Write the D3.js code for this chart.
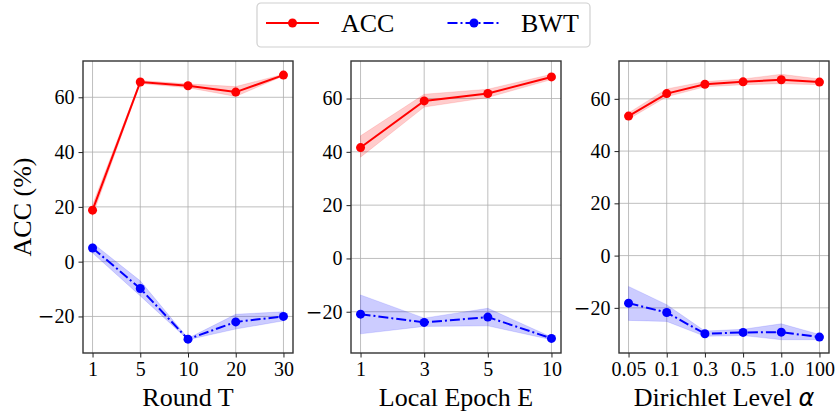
<!DOCTYPE html>
<html><head><meta charset="utf-8">
<script src="https://cdn.jsdelivr.net/npm/d3@7"></script>
<style>
html,body{margin:0;padding:0;background:#fff;}
svg{display:block;}
text{font-family:"Liberation Serif","Times New Roman",serif;fill:#000;}
</style></head>
<body>
<svg id="chart" width="835" height="413"></svg>
<script>
// ---- data ----
const roundT = ["1","5","10","20","30"];
const accRound   = [18.8, 65.6, 64.2, 61.9, 68.1];
const accRoundLo = [16.8, 65.0, 63.5, 60.3, 67.8];
const accRoundHi = [20.8, 66.1, 64.9, 63.9, 68.4];
const bwtRound   = [5.0, -9.8, -28.3, -22.0, -20.0];
const bwtRoundLo = [3.2, -12.5, -28.5, -24.6, -21.6];
const bwtRoundHi = [6.8, -7.0, -28.0, -19.2, -18.3];

const localE = ["1","3","5","10"];
const accEpoch   = [41.6, 59.1, 61.9, 68.1];
const accEpochLo = [38.0, 56.8, 60.4, 67.1];
const accEpochHi = [46.0, 61.6, 63.5, 69.1];
const bwtEpoch   = [-20.9, -24.0, -22.0, -30.0];
const bwtEpochLo = [-28.3, -25.5, -25.3, -30.5];
const bwtEpochHi = [-13.7, -22.4, -18.7, -29.5];

const dirichlet = ["0.05","0.1","0.3","0.5","1.0","100"];
const accDir   = [53.4, 62.0, 65.6, 66.5, 67.3, 66.4];
const accDirLo = [52.2, 60.8, 64.6, 65.4, 65.8, 65.4];
const accDirHi = [54.6, 63.8, 66.6, 67.6, 69.4, 67.6];
const bwtDir   = [-18.2, -21.8, -29.9, -29.4, -29.3, -31.2];
const bwtDirLo = [-24.8, -25.2, -30.9, -30.6, -32.2, -32.2];
const bwtDirHi = [-11.8, -18.8, -28.9, -28.2, -26.1, -30.2];

const yTicks = [-20, 0, 20, 40, 60];
const seriesNames = ["ACC", "BWT"];
const xLabels = ["Round T", "Local Epoch E", "Dirichlet Level "];

// ---- build ----
const panels = [
  {cats: roundT, acc: accRound, accLo: accRoundLo, accHi: accRoundHi, bwt: bwtRound, bwtLo: bwtRoundLo, bwtHi: bwtRoundHi, label: xLabels[0]},
  {cats: localE, acc: accEpoch, accLo: accEpochLo, accHi: accEpochHi, bwt: bwtEpoch, bwtLo: bwtEpochLo, bwtHi: bwtEpochHi, label: xLabels[1]},
  {cats: dirichlet, acc: accDir, accLo: accDirLo, accHi: accDirHi, bwt: bwtDir, bwtLo: bwtDirLo, bwtHi: bwtDirHi, label: xLabels[2], alpha: true}
];

const SERIF = "'Liberation Serif', 'Times New Roman', serif";
const svg = d3.select("#chart");
const lefts = [83, 351, 619];
const pw = 210, topY = 61, bottomY = 353;
const RED = "#ff0000", BLUE = "#0000ff";
const DASHDOT = "10,3,2,3";

function fmtTick(sel) {
  sel.each(function(d) {
    const t = d3.select(this);
    t.text(null);
    if (d < 0) {
      t.append("tspan").style("font-family", "'DejaVu Sans'").text("\u2212");
      t.append("tspan").style("font-family", SERIF).text(String(Math.abs(d)));
    } else {
      t.text(String(d));
    }
  });
}

panels.forEach((p, i) => {
  const n = p.cats.length;
  const x = d3.scaleLinear().domain([-0.05 * (n - 1), 1.05 * (n - 1)]).range([lefts[i], lefts[i] + pw]);
  const allVals = [].concat(p.accLo, p.accHi, p.bwtLo, p.bwtHi);
  const mn = d3.min(allVals), mx = d3.max(allVals), pad = (mx - mn) * 0.05;
  const y = d3.scaleLinear().domain([mn - pad, mx + pad]).range([bottomY, topY]);
  const g = svg.append("g");
  const idx = d3.range(n);

  // grid
  g.selectAll("line.gx").data(idx).enter().append("line")
    .attr("x1", d => x(d)).attr("x2", d => x(d)).attr("y1", topY).attr("y2", bottomY)
    .attr("stroke", "#b0b0b0").attr("stroke-width", 1).attr("opacity", 0.8);
  g.selectAll("line.gy").data(yTicks).enter().append("line")
    .attr("x1", lefts[i]).attr("x2", lefts[i] + pw).attr("y1", d => y(d)).attr("y2", d => y(d))
    .attr("stroke", "#b0b0b0").attr("stroke-width", 1).attr("opacity", 0.8);

  // bands
  const area = (lo, hi) => d3.area().x(d => x(d)).y0(d => y(lo[d])).y1(d => y(hi[d]));
  g.append("path").datum(idx).attr("d", area(p.accLo, p.accHi))
    .attr("fill", RED).attr("fill-opacity", 0.2).attr("stroke", RED).attr("stroke-opacity", 0.12);
  g.append("path").datum(idx).attr("d", area(p.bwtLo, p.bwtHi))
    .attr("fill", BLUE).attr("fill-opacity", 0.2).attr("stroke", BLUE).attr("stroke-opacity", 0.12);

  // lines
  const line = vals => d3.line().x(d => x(d)).y(d => y(vals[d]));
  g.append("path").datum(idx).attr("d", line(p.acc)).attr("fill", "none")
    .attr("stroke", RED).attr("stroke-width", 2);
  g.append("path").datum(idx).attr("d", line(p.bwt)).attr("fill", "none")
    .attr("stroke", BLUE).attr("stroke-width", 2).attr("stroke-dasharray", DASHDOT);

  g.selectAll("circle.acc").data(idx).enter().append("circle")
    .attr("cx", d => x(d)).attr("cy", d => y(p.acc[d])).attr("r", 4.5).attr("fill", RED);
  g.selectAll("circle.bwt").data(idx).enter().append("circle")
    .attr("cx", d => x(d)).attr("cy", d => y(p.bwt[d])).attr("r", 4.5).attr("fill", BLUE);

  // frame
  g.append("rect").attr("x", lefts[i]).attr("y", topY).attr("width", pw).attr("height", bottomY - topY)
    .attr("fill", "none").attr("stroke", "#333").attr("stroke-width", 1.4);

  // axes
  const xAxis = d3.axisBottom(x).tickValues(idx).tickFormat(d => p.cats[d]).tickSizeInner(4.5).tickSizeOuter(0).tickPadding(4);
  const xa = g.append("g").attr("transform", `translate(0,${bottomY})`).call(xAxis)
    .attr("font-family", SERIF).attr("font-size", 20);
  xa.select(".domain").remove();
  xa.selectAll(".tick line").attr("stroke", "#222").attr("stroke-width", 1);
  xa.selectAll(".tick text").attr("font-size", 20).style("font-family", SERIF);

  const yAxis = d3.axisLeft(y).tickValues(yTicks).tickSizeInner(4.5).tickSizeOuter(0).tickPadding(4);
  const ya = g.append("g").attr("transform", `translate(${lefts[i]},0)`).call(yAxis)
    .attr("font-family", SERIF).attr("font-size", 20);
  ya.select(".domain").remove();
  ya.selectAll(".tick line").attr("stroke", "#222").attr("stroke-width", 1);
  ya.selectAll(".tick text").attr("font-size", 20).style("font-family", SERIF).call(fmtTick);

  // x label
  const xl = g.append("text").attr("x", lefts[i] + pw / 2).attr("y", 406).attr("text-anchor", "middle")
    .style("font-family", SERIF).attr("font-size", 26).text(p.label);
  if (p.alpha) {
    xl.append("tspan").style("font-family", "'DejaVu Sans'").style("font-style", "italic").attr("font-size", 24).text("\u03b1");
  }
});

// y label
svg.append("text").attr("transform", "translate(31,207) rotate(-90)").attr("text-anchor", "middle")
  .style("font-family", SERIF).attr("font-size", 26).text("ACC (%)");

// legend
const lg = svg.append("g");
lg.append("rect").attr("x", 257).attr("y", 3).attr("width", 333).attr("height", 44).attr("rx", 4)
  .attr("fill", "#fff").attr("stroke", "#d0d0d0").attr("stroke-width", 1.2);
const legendItems = [
  {name: seriesNames[0], color: RED, dash: null, x0: 266, tx: 341},
  {name: seriesNames[1], color: BLUE, dash: DASHDOT, x0: 447.5, tx: 521}
];
legendItems.forEach(it => {
  lg.append("line").attr("x1", it.x0).attr("x2", it.x0 + 53).attr("y1", 23).attr("y2", 23)
    .attr("stroke", it.color).attr("stroke-width", 2).attr("stroke-dasharray", it.dash);
  lg.append("circle").attr("cx", it.x0 + 26.5).attr("cy", 23).attr("r", 4.5).attr("fill", it.color);
  lg.append("text").attr("x", it.tx).attr("y", 32).style("font-family", SERIF).attr("font-size", 26).text(it.name);
});
</script>
</body></html>
